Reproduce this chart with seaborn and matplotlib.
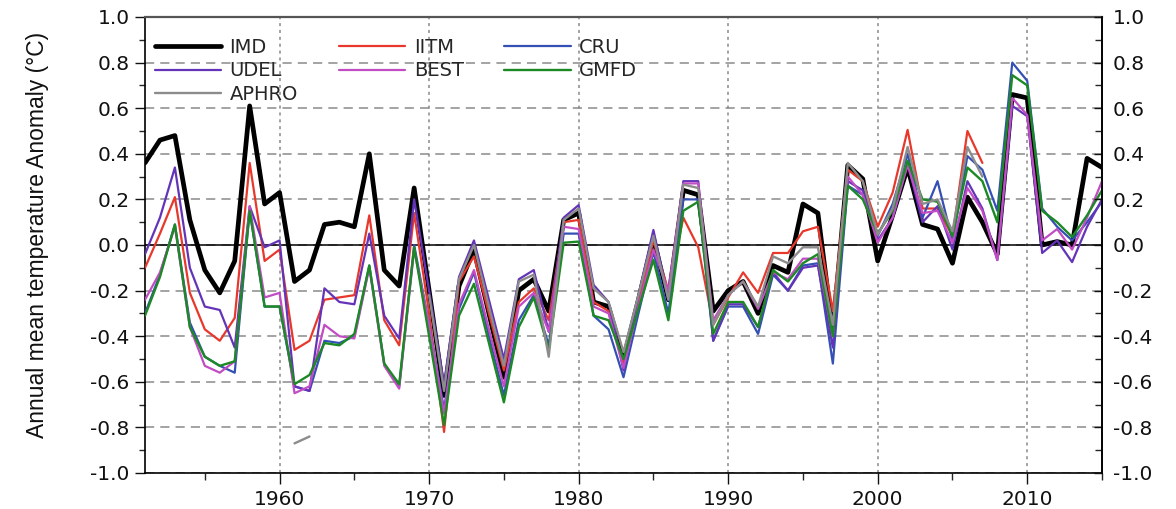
import numpy as np
import pandas as pd
import matplotlib
matplotlib.use("Agg")
import matplotlib.pyplot as plt
import seaborn as sns
from matplotlib.ticker import MultipleLocator, FormatStrFormatter
from matplotlib.lines import Line2D

nan = np.nan
years = list(range(1951, 2016))

imd = [0.36, 0.46, 0.48, 0.11, -0.11, -0.21, -0.07, 0.61, 0.18, 0.23,
       -0.16, -0.11, 0.09, 0.10, 0.08, 0.40, -0.11, -0.18, 0.25, -0.20,
       -0.66, -0.18, -0.02, -0.30, -0.58, -0.20, -0.15, -0.29, 0.11, 0.14,
       -0.25, -0.27, -0.50, -0.24, 0.03, -0.24, 0.24, 0.22, -0.29, -0.20,
       -0.16, -0.30, -0.09, -0.12, 0.18, 0.14, -0.38, 0.35, 0.29, -0.07,
       0.13, 0.34, 0.09, 0.07, -0.08, 0.21, 0.10, -0.04, 0.66, 0.645,
       0.00, 0.015, 0.00, 0.38, 0.34]

iitm = [-0.10, 0.05, 0.21, -0.21, -0.37, -0.42, -0.32, 0.36, -0.07, -0.02,
        -0.46, -0.42, -0.24, -0.23, -0.22, 0.13, -0.33, -0.44, 0.14, -0.30,
        -0.82, -0.16, -0.05, -0.30, -0.55, -0.25, -0.19, -0.33, 0.10, 0.11,
        -0.25, -0.29, -0.52, -0.25, 0.02, -0.20, 0.12, -0.01, -0.35, -0.23,
        -0.12, -0.21, -0.035, -0.035, 0.06, 0.08, -0.29, 0.33, 0.28, 0.08,
        0.23, 0.505, 0.16, 0.16, 0.04, 0.50, 0.36, nan, nan, nan,
        nan, nan, nan, nan, nan]

cru = [-0.30, -0.13, 0.09, -0.34, -0.49, -0.53, -0.56, 0.15, -0.27, -0.27,
       -0.62, -0.64, -0.42, -0.43, -0.40, -0.09, -0.52, -0.62, 0.00, -0.35,
       -0.72, -0.28, -0.12, -0.40, -0.66, -0.33, -0.22, -0.44, 0.05, 0.05,
       -0.31, -0.37, -0.58, -0.30, -0.03, -0.30, 0.20, 0.20, -0.42, -0.27,
       -0.27, -0.39, -0.13, -0.20, -0.09, -0.08, -0.52, 0.26, 0.22, 0.04,
       0.18, 0.40, 0.12, 0.28, 0.02, 0.39, 0.33, 0.15, 0.80, 0.72,
       0.16, 0.08, 0.02, 0.10, 0.19]

udel = [-0.04, 0.12, 0.34, -0.10, -0.27, -0.285, -0.45, 0.17, -0.01, 0.02,
        -0.62, -0.64, -0.19, -0.25, -0.26, 0.05, -0.31, -0.41, 0.20, -0.20,
        -0.61, -0.14, 0.02, -0.24, -0.50, -0.15, -0.11, -0.38, 0.12, 0.175,
        -0.175, -0.25, -0.55, -0.22, 0.066, -0.24, 0.28, 0.28, -0.42, -0.26,
        -0.26, -0.36, -0.12, -0.20, -0.10, -0.09, -0.45, 0.28, 0.24, 0.02,
        0.12, 0.36, 0.10, 0.17, -0.02, 0.28, 0.16, -0.066, 0.61, 0.565,
        -0.035, 0.02, -0.075, 0.08, 0.20]

best = [-0.24, -0.12, 0.08, -0.36, -0.53, -0.56, -0.51, 0.17, -0.23, -0.21,
        -0.65, -0.62, -0.35, -0.40, -0.41, -0.10, -0.53, -0.63, -0.02, -0.35,
        -0.74, -0.26, -0.11, -0.37, -0.62, -0.27, -0.21, -0.38, 0.08, 0.07,
        -0.27, -0.30, -0.54, -0.27, -0.02, -0.20, 0.27, 0.27, -0.33, -0.22,
        -0.16, -0.28, -0.12, -0.15, -0.06, -0.06, -0.40, 0.30, 0.22, 0.01,
        0.12, 0.35, 0.14, 0.15, 0.01, 0.25, 0.15, -0.066, 0.645, 0.57,
        0.02, 0.07, -0.02, 0.12, 0.28]

gmfd = [-0.31, -0.14, 0.09, -0.36, -0.49, -0.53, -0.51, 0.15, -0.27, -0.27,
        -0.61, -0.57, -0.43, -0.44, -0.39, -0.09, -0.52, -0.61, -0.01, -0.40,
        -0.79, -0.31, -0.17, -0.43, -0.69, -0.36, -0.23, -0.46, 0.01, 0.015,
        -0.31, -0.33, -0.50, -0.28, -0.065, -0.33, 0.15, 0.19, -0.39, -0.25,
        -0.25, -0.36, -0.11, -0.16, -0.08, -0.04, -0.40, 0.26, 0.20, 0.05,
        0.15, 0.37, 0.20, 0.19, 0.04, 0.34, 0.28, 0.10, 0.745, 0.70,
        0.15, 0.10, 0.035, 0.13, 0.24]

aphro = [nan, nan, nan, nan, nan, nan, nan, nan, nan, nan,
         -0.87, -0.84, nan, nan, nan, nan, nan, nan, nan, -0.22,
         -0.64, -0.15, 0.00, -0.27, -0.53, -0.16, -0.13, -0.49, 0.11, 0.16,
         -0.19, -0.25, -0.47, -0.22, 0.04, -0.24, 0.265, 0.25, -0.35, -0.22,
         -0.16, -0.27, -0.05, -0.08, -0.01, -0.01, -0.35, 0.36, 0.28, 0.045,
         0.16, 0.43, 0.18, 0.20, 0.06, 0.43, 0.30, nan, nan, nan,
         nan, nan, nan, nan, nan]

names = ["IMD", "IITM", "CRU", "UDEL", "BEST", "GMFD", "APHRO"]
values = [imd, iitm, cru, udel, best, gmfd, aphro]
colors = ["#000000", "#e8382c", "#3550b4", "#6434b8", "#c24cc4", "#1c8a24", "#8c8c8c"]
widths = [3.4, 1.6, 1.6, 1.6, 1.6, 1.7, 1.7]

sns.set_theme(style="white")
plt.rcParams["font.family"] = ["DejaVu Sans"]

fig = plt.figure(figsize=(11.76, 5.09), dpi=100)
ax = fig.add_axes([145 / 1176, 1 - 473 / 509, (1102 - 145) / 1176, (473 - 17) / 509])

for i, (name, vals, col, lw) in enumerate(zip(names, values, colors, widths)):
    df = pd.DataFrame({"year": years, "value": vals})
    seg = df["value"].isna().cumsum()
    ok = df["value"].notna()
    for _, part in df[ok].groupby(seg[ok]):
        sns.lineplot(data=part, x="year", y="value", color=col, lw=lw, ax=ax,
                     legend=False, zorder=3 + i)

ax.set_xlim(1951, 2015)
ax.set_ylim(-1.0, 1.0)
ax.xaxis.set_major_locator(MultipleLocator(10))
ax.xaxis.set_minor_locator(MultipleLocator(5))
ax.yaxis.set_major_locator(MultipleLocator(0.2))
ax.yaxis.set_minor_locator(MultipleLocator(0.1))
ax.yaxis.set_major_formatter(FormatStrFormatter("%.1f"))

ax.set_axisbelow(True)
ax.yaxis.grid(True, which="major", ls=(0, (6, 4)), color="#8a8a8a", lw=1.1)
ax.xaxis.grid(True, which="major", ls=(0, (2, 2.5)), color="#8a8a8a", lw=1.1)
ax.axhline(0, color="black", lw=1.1, zorder=2)

ax.tick_params(axis="y", which="major", direction="out", length=7, width=1,
               left=True, right=False, labelsize=14.5, colors="#111111", pad=4)
ax.tick_params(axis="y", which="minor", direction="out", length=4, width=1,
               left=True, right=False)
ax.tick_params(axis="x", which="major", direction="out", length=8, width=1,
               bottom=True, top=False, labelsize=14.5, colors="#111111", pad=4)
ax.tick_params(axis="x", which="minor", direction="out", length=5, width=1,
               bottom=True, top=False)

ax2 = ax.twinx()
ax2.set_ylim(-1.0, 1.0)
ax2.yaxis.set_major_locator(MultipleLocator(0.2))
ax2.yaxis.set_minor_locator(MultipleLocator(0.1))
ax2.yaxis.set_major_formatter(FormatStrFormatter("%.1f"))
ax2.tick_params(axis="y", which="major", direction="in", length=6, width=1,
                right=True, left=False, labelright=True, labelsize=14.5,
                colors="#111111", pad=8)
ax2.tick_params(axis="y", which="minor", direction="in", length=5, width=1,
                right=True, left=False)
ax2.grid(False)
for s in ["left", "top", "bottom"]:
    ax2.spines[s].set_visible(False)
ax2.spines["right"].set_color("black")
ax2.spines["right"].set_linewidth(1.2)

for s in ["left", "bottom", "right"]:
    ax.spines[s].set_color("black")
    ax.spines[s].set_linewidth(1.2)
ax.spines["top"].set_color("#555555")
ax.spines["top"].set_linewidth(1.6)

ax.set_xlabel("")
ax.set_ylabel("Annual mean temperature Anomaly (°C)", fontsize=16.5,
              family=["Liberation Sans", "DejaVu Sans"], color="#111111")
ax.yaxis.set_label_coords(-0.100, 0.522)

handles = {n: Line2D([], [], color=c, lw=w) for n, c, w in zip(names, colors, widths)}
order = ["IMD", "UDEL", "APHRO", "IITM", "BEST", "CRU", "GMFD"]
leg = ax.legend([handles[n] for n in order], order, ncol=3, loc="upper left",
                bbox_to_anchor=(0.0, 0.975), frameon=False, fontsize=14,
                handlelength=3.4, handletextpad=0.45, columnspacing=2.1,
                labelspacing=0.22, borderaxespad=0.3, borderpad=0.2)
leg.set_zorder(20)

fig.savefig("out.png", dpi=100)
